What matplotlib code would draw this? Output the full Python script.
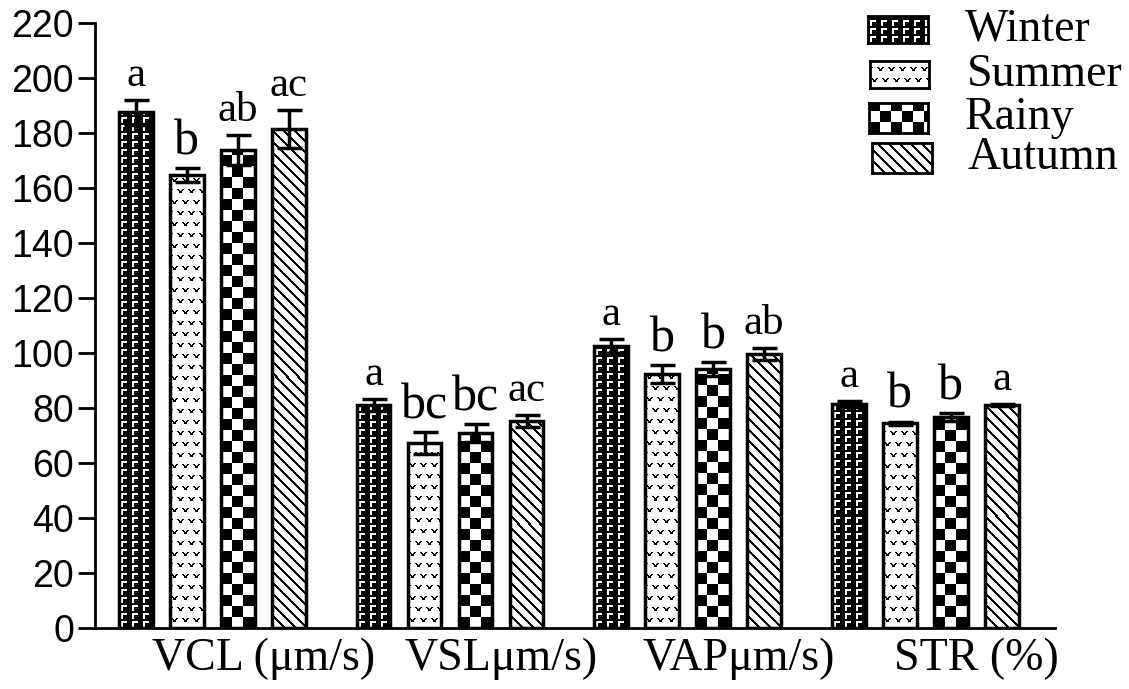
import numpy as np
import matplotlib
matplotlib.use("Agg")
import matplotlib.pyplot as plt

# dane
groups = ["VCL (\u03bcm/s)", "VSL\u03bcm/s)", "VAP\u03bcm/s)", "STR (%)"]
seasons = ["Winter", "Summer", "Rainy", "Autumn"]

winter = [187.5, 81.0, 102.5, 81.5]
summer = [164.7, 67.3, 92.4, 74.5]
rainy = [173.8, 70.9, 94.2, 76.7]
autumn = [181.5, 75.3, 99.6, 81.1]

winter_err = [4.6, 2.2, 2.6, 1.0]
summer_err = [2.5, 4.0, 3.2, 0.5]
rainy_err = [5.5, 3.3, 2.5, 1.5]
autumn_err = [7.0, 2.2, 2.2, 0.4]

winter_lbl = ["a", "a", "a", "a"]
summer_lbl = ["b", "bc", "b", "b"]
rainy_lbl = ["ab", "bc", "b", "b"]
autumn_lbl = ["ac", "ac", "ab", "a"]

values = [winter, summer, rainy, autumn]
errors = [winter_err, summer_err, rainy_err, autumn_err]
labels = [winter_lbl, summer_lbl, rainy_lbl, autumn_lbl]


# wzory wypelnienia (1 = bialy, 0 = czarny), r liczone od dolu
def pat_winter(r, c):
    rt = 7 - (r % 8)
    cc = c % 11
    white = ((rt >= 1) & (rt <= 2) & (cc >= 2) & (cc <= 7)) | \
            ((cc >= 2) & (cc <= 3) & (rt >= 1) & (rt <= 6))
    return white.astype(float)


def pat_summer(r, c):
    rt = 10 - (r % 11)
    cc = (c + 5 * ((r // 11) % 2)) % 11
    black = ((rt == 1) & ((cc == 1) | (cc == 2) | (cc == 6) | (cc == 7))) | \
            ((rt == 2) & ((cc == 2) | (cc == 3) | (cc == 5) | (cc == 6))) | \
            ((rt == 3) & (cc >= 3) & (cc <= 5)) | \
            ((rt == 4) & (cc >= 3) & (cc <= 5))
    return (~black).astype(float)


def pat_rainy(r, c):
    return (((r // 11) + (c // 11)) % 2).astype(float)


def pat_autumn(r, c):
    return (((c + r) % 11) >= 3).astype(float)


patterns = [pat_winter, pat_summer, pat_rainy, pat_autumn]


def pattern_image(func, w_px, h_px):
    h_px = max(int(round(h_px)), 1)
    w_px = max(int(round(w_px)), 1)
    r, c = np.mgrid[0:h_px, 0:w_px]
    return func(r, c)


W, H = 1129, 689
fig = plt.figure(figsize=(W / 100, H / 100), dpi=100)
ax = fig.add_axes([95 / W, 1 - 628 / H, (1055 - 95) / W, (628 - 23) / H])

plt.rcParams["font.family"] = "Liberation Serif"

group_step = 4.66
width = 0.66
x_left, x_right = -0.80, 18.02
ax.set_xlim(x_left, x_right)
ax.set_ylim(0, 220)

px_per_x = (1055 - 95) / (x_right - x_left)
px_per_y = (628 - 23) / 220

for i in range(4):
    x = np.arange(4) * group_step + i
    for xi, v in zip(x, values[i]):
        img = pattern_image(patterns[i], width * px_per_x, v * px_per_y)
        ax.imshow(img, cmap="gray", vmin=0, vmax=1, origin="lower",
                  extent=(xi - width / 2, xi + width / 2, 0, v),
                  interpolation="nearest", aspect="auto", zorder=2)
    ax.bar(x, values[i], width, fill=False, edgecolor="black",
           linewidth=2.5, zorder=3)
    ax.errorbar(x, values[i], yerr=errors[i], fmt="none", ecolor="black",
                elinewidth=2.5, capsize=9, capthick=2.5, zorder=4)
    for xi, v, e, t in zip(x, values[i], errors[i], labels[i]):
        size = 36 if t.startswith("b") else 31
        ax.annotate(t, (xi, v + e), xytext=(0, 10), textcoords="offset points",
                    ha="center", va="baseline", fontsize=size,
                    family="Liberation Serif")

ax.set_xlim(x_left, x_right)
ax.set_ylim(0, 220)

# osie
ax.spines["top"].set_visible(False)
ax.spines["right"].set_visible(False)
ax.spines["left"].set_linewidth(2)
ax.spines["bottom"].set_linewidth(2)
ax.set_yticks(range(0, 221, 20))
ax.tick_params(axis="y", direction="out", length=12, width=2, labelsize=27,
               pad=3)
for lab in ax.get_yticklabels():
    lab.set_family("Liberation Sans")

centers = np.arange(4) * group_step + 1.5
ax.set_xticks(centers + 1.0)
ax.set_xticklabels(groups, fontsize=33, family="Liberation Serif")
ax.tick_params(axis="x", length=0, pad=7)

# legenda
legend_boxes = [(868, 16, 928, 43), (870, 61, 929, 88),
                (869, 103, 928, 133), (872, 143, 932, 173)]
legend_text_x = [965, 967, 965, 968]
for i, (x0, y0, x1, y1) in enumerate(legend_boxes):
    lax = fig.add_axes([x0 / W, 1 - y1 / H, (x1 - x0) / W, (y1 - y0) / H])
    img = pattern_image(patterns[i], x1 - x0, y1 - y0)
    lax.imshow(img, cmap="gray", vmin=0, vmax=1, origin="lower",
               interpolation="nearest", aspect="auto")
    lax.set_xticks([])
    lax.set_yticks([])
    for s in lax.spines.values():
        s.set_linewidth(2)
    fig.text(legend_text_x[i] / W, 1 - (y0 + y1) / 2 / H, seasons[i],
             fontsize=33, family="Liberation Serif", va="center", ha="left")

fig.savefig("out.png", dpi=100)
